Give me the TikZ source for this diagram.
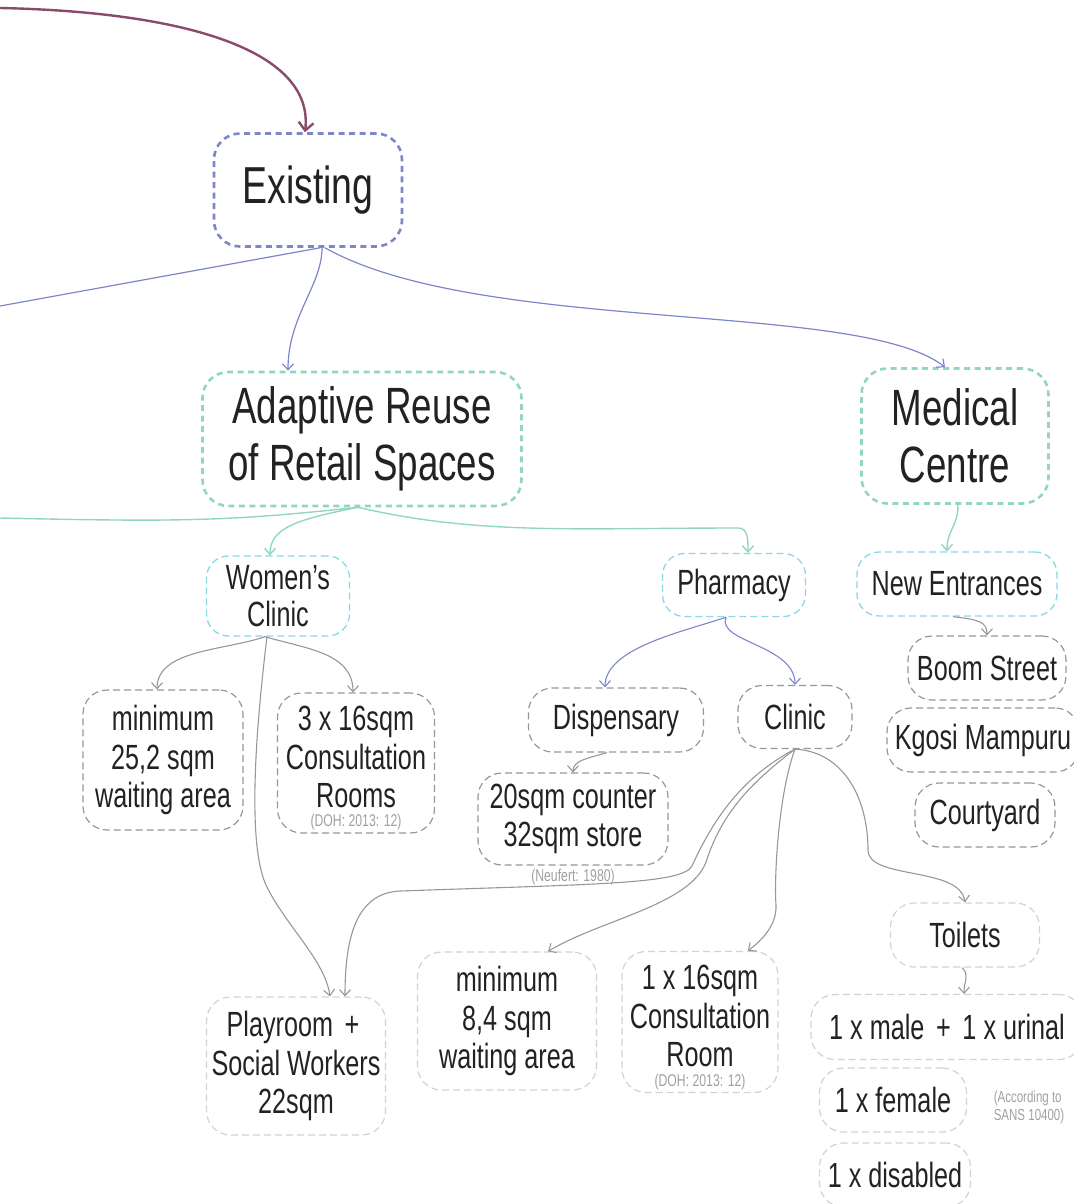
\documentclass[tikz,border=0pt]{standalone}
\usepackage{fontspec}
\setmainfont[FakeStretch=0.72]{Liberation Sans}
\usetikzlibrary{arrows.meta}

\definecolor{plum}{HTML}{8A4A6B}
\definecolor{bluish}{HTML}{7D86C8}
\definecolor{mint}{HTML}{93D6C0}
\definecolor{skyline}{HTML}{8AD7E8}
\definecolor{boxgrey}{HTML}{979797}
\definecolor{faintgrey}{HTML}{D2D2D2}
\definecolor{notegrey}{HTML}{A0A0A0}
\definecolor{ink}{HTML}{222222}

\begin{document}
\begin{tikzpicture}[x=1pt, y=-1pt,
    every node/.style={text=ink, align=center, inner sep=0pt},
    bigbox/.style={rectangle, rounded corners=26pt, line width=2.6pt,
        dash pattern=on 6pt off 4.5pt, font=\fontsize{51}{57}\selectfont},
    midbox/.style={rectangle, rounded corners=22pt, draw=skyline, line width=1.3pt,
        dash pattern=on 7pt off 4pt, font=\fontsize{35}{37}\selectfont},
    itembox/.style={rectangle, rounded corners=24pt, draw=boxgrey, line width=1.2pt,
        dash pattern=on 7pt off 4pt, font=\fontsize{35}{38.5}\selectfont},
    faintbox/.style={itembox, draw=faintgrey},
    note/.style={text=notegrey, font=\fontsize{17}{19}\selectfont},
    link/.style={line width=1.1pt, draw=boxgrey, -{Straight Barb[length=6pt,width=11pt]}}]
    \useasboundingbox (0,0) rectangle (1073,1204);

    % Top level
    \node[bigbox, draw=bluish, minimum width=188pt, minimum height=113pt,
        font=\fontsize{52}{56}\selectfont] (exist) at (308,190) {Existing};
    \node[bigbox, draw=mint, minimum width=319pt, minimum height=134pt] (adapt) at (362,439)
        {Adaptive Reuse\\of Retail Spaces};
    \node[bigbox, draw=mint, minimum width=187pt, minimum height=135pt] (medic) at (955,436)
        {Medical\\Centre};

    % Second level
    \node[midbox, minimum width=143pt, minimum height=80pt] (womens) at (278,596) {Women’s\\Clinic};
    \node[midbox, minimum width=143pt, minimum height=63pt] (pharm) at (734,585) {Pharmacy};
    \node[midbox, minimum width=200pt, minimum height=64pt] (newent) at (957,584) {New Entrances};

    % Women's clinic
    \node[itembox, minimum width=160pt, minimum height=140pt] (waitA) at (163,760)
        {minimum\\25,2 sqm\\waiting area};
    \node[itembox, minimum width=157pt, minimum height=140pt,
        label={[note, anchor=south, yshift=3pt]south:(DOH: 2013: 12)}] (consA) at (356,763)
        {3 x 16sqm\\Consultation\\Rooms\\[-26.5pt]};

    % Pharmacy
    \node[itembox, minimum width=175pt, minimum height=64pt] (disp) at (616,720) {Dispensary};
    \node[itembox, minimum width=114pt, minimum height=63pt] (clinic) at (795,717) {Clinic};
    \node[itembox, minimum width=190pt, minimum height=92pt,
        label={[note, anchor=center, yshift=-11pt]south:(Neufert: 1980)}] (counter) at (573,819)
        {20sqm counter\\32sqm store};

    % Entrances
    \node[itembox, minimum width=158pt, minimum height=64pt] (boom) at (987,668) {Boom Street};
    \node[itembox, minimum width=192pt, minimum height=64pt] (kgosi) at (983,740) {Kgosi Mampuru};
    \node[itembox, minimum width=140pt, minimum height=64pt] (court) at (985,815) {Courtyard};

    % Clinic rooms
    \node[faintbox, minimum width=179pt, minimum height=138pt] (play) at (296,1066)
        {Playroom\,\,+\,\\Social Workers\\22sqm};
    \node[faintbox, minimum width=179pt, minimum height=138pt] (waitB) at (507,1021)
        {minimum\\8,4 sqm\\waiting area};
    \node[faintbox, minimum width=156pt, minimum height=141pt,
        label={[note, anchor=south, yshift=3pt]south:(DOH: 2013: 12)}] (consB) at (700,1022)
        {1 x 16sqm\\Consultation\\Room\\[-26.5pt]};
    \node[faintbox, minimum width=149pt, minimum height=64pt] (toilets) at (965,935) {Toilets};
    \node[faintbox, minimum width=272pt, minimum height=65pt] (male) at (947,1027)
        {1 x male\,\,+\,\,1 x urinal};
    \node[faintbox, minimum width=147pt, minimum height=64pt] (female) at (893,1100) {1 x female};
    \node[faintbox, minimum width=151pt, minimum height=64pt] (disabled) at (895,1175) {1 x disabled};
    \node[note, align=left, font=\fontsize{16}{18}\selectfont] (sans) at (1029,1107)
        {(According to\\SANS 10400)};

    % loose ends
    \coordinate (offtop) at (0,8);
    \coordinate (offleft) at (0,306);
    \coordinate (offgreen) at (0,518);

    % Connectors from above
    \draw[link, draw=plum, line width=2.4pt, -{Straight Barb[length=8pt,width=15pt]}]
        (offtop) .. controls (190,12) and (314,52) .. ([xshift=-3pt]exist.north);
    \draw[line width=1.2pt, bluish] ([xshift=12pt]exist.south) -- (offleft);
    \draw[link, draw=bluish, line width=1.2pt] ([xshift=14pt]exist.south)
        .. controls +(0,38) and +(0,-55) .. ([xshift=-74pt]adapt.north);
    \draw[link, draw=bluish, line width=1.2pt] ([xshift=17pt]exist.south)
        .. controls (480,335) and (860,300) .. ([xshift=-10pt]medic.north);

    % Green connectors
    \draw[line width=1.4pt, mint] ([xshift=-4pt]adapt.south)
        .. controls +(-130,14) and +(180,4) .. (offgreen);
    \draw[link, draw=mint, line width=1.4pt] ([xshift=-4pt]adapt.south)
        .. controls +(-60,12) and +(0,-28) .. ([xshift=-8pt]womens.north);
    \draw[link, draw=mint, line width=1.4pt] ([xshift=-4pt]adapt.south)
        .. controls +(120,28) and +(-160,0) .. (738,528)
        .. controls +(10,0) and +(0,-14) .. ([xshift=14pt]pharm.north);
    \draw[link, draw=mint, line width=1.4pt] ([xshift=3pt]medic.south)
        .. controls +(0,22) and +(0,-22) .. ([xshift=-10pt]newent.north);

    % Women's clinic
    \draw[link] ([xshift=-13pt]womens.south) .. controls +(-40,14) and +(0,-40) .. ([xshift=-6pt]waitA.north);
    \draw[link] ([xshift=-13pt]womens.south) .. controls +(40,12) and +(0,-40) .. ([xshift=-3pt]consA.north);
    \draw[link] ([xshift=-11pt]womens.south) .. controls (252,760) and (250,850) .. (266,885)
        .. controls (285,925) and (325,960) .. ([xshift=34pt]play.north);

    % Pharmacy
    \draw[link, draw=bluish] ([xshift=-8pt]pharm.south) .. controls +(-40,14) and +(0,-40) .. ([xshift=-11pt]disp.north);
    \draw[link, draw=bluish] ([xshift=-8pt]pharm.south) .. controls +(-10,25) and +(0,-40) .. (clinic.north);
    \draw[link] ([xshift=-9pt]disp.south) .. controls +(-20,6) and +(0,-12) .. (counter.north);
    \draw[link] ([xshift=-4pt]newent.south) .. controls +(25,3) and +(0,-14) .. (boom.north);

    % Clinic
    \draw[link] (clinic.south) .. controls (740,778) and (712,822) .. (692,866)
        .. controls (682,884) and (600,884) .. (400,891)
        .. controls (355,893) and (345,940) .. ([xshift=49pt]play.north);
    \draw[link] (clinic.south) .. controls (752,782) and (722,812) .. (706,862)
        .. controls (690,905) and (600,920) .. ([xshift=41pt]waitB.north);
    \draw[link] (clinic.south) .. controls (778,795) and (774,880) .. (776,905)
        .. controls (777,925) and (762,940) .. ([xshift=48pt]consB.north);
    \draw[link] (clinic.south) .. controls (845,752) and (868,800) .. (868,850)
        .. controls (868,880) and (960,866) .. (toilets.north);
    \draw[link] ([xshift=-3pt]toilets.south) .. controls +(8,8) and +(0,-14) .. ([xshift=17pt]male.north);
\end{tikzpicture}
\end{document}
